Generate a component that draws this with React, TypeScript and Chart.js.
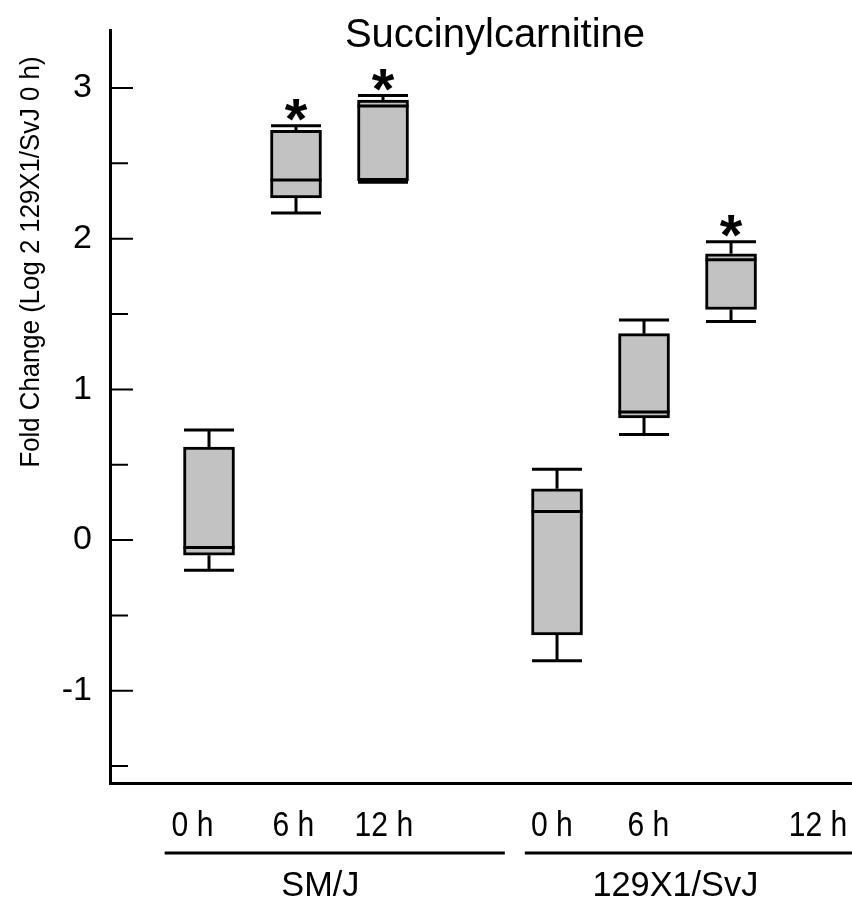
import React, { useEffect, useRef } from 'react';
import { Chart, registerables } from 'chart.js';

Chart.register(...registerables);

// ---- data ----
const categories = ['0 h', '6 h', '12 h', '0 h', '6 h', '12 h'];
const boxPositions = [1, 2, 3, 5, 6, 7];
const groupLabels = ['SM/J', '129X1/SvJ'];
const whiskerLow = [-0.2, 2.17, 2.375, -0.8, 0.7, 1.45];
const quartile1 = [-0.1, 2.27, 2.385, -0.63, 0.81, 1.53];
const medians = [-0.05, 2.39, 2.88, 0.19, 0.85, 1.86];
const quartile3 = [0.617, 2.72, 2.92, 0.34, 1.37, 1.9];
const whiskerHigh = [0.73, 2.75, 2.95, 0.47, 1.46, 1.98];
const significant = [false, true, true, false, false, true];
const yTickValues = [-1.5, -1, -0.5, 0, 0.5, 1, 1.5, 2, 2.5, 3];
const yMin = -1.612;
const yMax = 3.385;
const xMin = -0.138;
const xMax = 8.379;
const titleText = 'Succinylcarnitine';
const yTitleText = 'Fold Change (Log 2 129X1/SvJ 0 h)';

// ---- layout (x in axis units) ----
const categoryLabelPos = [0.81, 1.97, 3.01, 4.94, 6.05, 8.0];
const groupLabelPos = [2.28, 6.36];
const groupLineFrom = [0.49, 4.63];
const groupLineTo = [4.4, 8.45];

const FONT = "'Liberation Sans', Arial, sans-serif";

function scaledText(ctx: CanvasRenderingContext2D, text: string, x: number, y: number, sx: number) {
  ctx.save();
  ctx.translate(x, y);
  ctx.scale(sx, 1);
  ctx.fillText(text, 0, 0);
  ctx.restore();
}

const boxPlugin = {
  id: 'boxExtras',
  afterDatasetsDraw(chart: any) {
    const ctx = chart.ctx;
    const xs = chart.scales.x;
    const ys = chart.scales.y;
    const halfBox = 25.5;
    const halfCap = 25;
    ctx.save();
    ctx.strokeStyle = '#000';
    ctx.lineWidth = 3;
    ctx.lineCap = 'butt';
    for (let i = 0; i < categories.length; i++) {
      const cx = xs.getPixelForValue(boxPositions[i]);
      const yLo = ys.getPixelForValue(whiskerLow[i]);
      const yQ1 = ys.getPixelForValue(quartile1[i]);
      const yMed = ys.getPixelForValue(medians[i]);
      const yQ3 = ys.getPixelForValue(quartile3[i]);
      const yHi = ys.getPixelForValue(whiskerHigh[i]);
      ctx.beginPath();
      ctx.moveTo(cx - halfBox, yMed);
      ctx.lineTo(cx + halfBox, yMed);
      ctx.moveTo(cx, yQ3);
      ctx.lineTo(cx, yHi);
      ctx.moveTo(cx - halfCap, yHi);
      ctx.lineTo(cx + halfCap, yHi);
      ctx.moveTo(cx, yQ1);
      ctx.lineTo(cx, yLo);
      ctx.moveTo(cx - halfCap, yLo);
      ctx.lineTo(cx + halfCap, yLo);
      ctx.stroke();

      if (significant[i]) {
        ctx.font = `bold 58px ${FONT}`;
        ctx.fillStyle = '#000';
        ctx.textAlign = 'center';
        ctx.textBaseline = 'alphabetic';
        const m = ctx.measureText('*');
        const center = yHi - 16;
        const base = center + (m.actualBoundingBoxAscent - m.actualBoundingBoxDescent) / 2;
        ctx.fillText('*', cx, base);
      }
    }
    ctx.restore();
  },
  afterDraw(chart: any) {
    const ctx = chart.ctx;
    const xs = chart.scales.x;
    const ys = chart.scales.y;
    const area = chart.chartArea;
    ctx.save();
    ctx.strokeStyle = '#000';
    ctx.lineWidth = 2;
    ctx.beginPath();
    for (const t of ys.ticks) {
      const y = ys.getPixelForValue(t.value);
      const major = Number.isInteger(t.value);
      ctx.moveTo(area.left, y);
      ctx.lineTo(area.left + (major ? 23 : 18), y);
    }
    ctx.stroke();

    ctx.fillStyle = '#000';
    ctx.textAlign = 'center';
    ctx.textBaseline = 'middle';

    ctx.font = `40px ${FONT}`;
    ctx.fillText(titleText, 495, 36);

    ctx.save();
    ctx.translate(31, 262);
    ctx.rotate(-Math.PI / 2);
    ctx.font = `28px ${FONT}`;
    scaledText(ctx, yTitleText, 0, 0, 0.92);
    ctx.restore();

    ctx.font = `35px ${FONT}`;
    for (let i = 0; i < categories.length; i++) {
      scaledText(ctx, categories[i], xs.getPixelForValue(categoryLabelPos[i]), area.bottom + 43, 0.86);
    }

    ctx.lineWidth = 3;
    for (let g = 0; g < groupLabels.length; g++) {
      const x0 = xs.getPixelForValue(groupLineFrom[g]);
      const x1 = xs.getPixelForValue(groupLineTo[g]);
      const uy = area.bottom + 70;
      ctx.beginPath();
      ctx.moveTo(x0, uy);
      ctx.lineTo(x1, uy);
      ctx.stroke();
      ctx.font = `35px ${FONT}`;
      scaledText(ctx, groupLabels[g], xs.getPixelForValue(groupLabelPos[g]), area.bottom + 103, 0.98);
    }
    ctx.restore();
  },
};

export default function App() {
  const ref = useRef<HTMLCanvasElement | null>(null);
  useEffect(() => {
    if (!ref.current) return;
    const chart = new Chart(ref.current, {
      type: 'bar',
      data: {
        datasets: [
          {
            data: categories.map((_, i) => ({ x: boxPositions[i], y: [quartile1[i], quartile3[i]] })) as any,
            backgroundColor: '#c2c2c2',
            borderColor: '#000',
            borderWidth: 3,
            borderSkipped: false,
            barThickness: 51,
          },
        ],
      },
      options: {
        responsive: false,
        animation: false,
        layout: { padding: { top: 30, right: 1, left: 0, bottom: 0 } },
        plugins: { legend: { display: false }, tooltip: { enabled: false }, title: { display: false } },
        scales: {
          x: {
            type: 'linear',
            offset: false,
            min: xMin,
            max: xMax,
            afterBuildTicks: (s: any) => {
              s.ticks = boxPositions.map((v) => ({ value: v }));
            },
            afterFit: (s: any) => {
              s.height = 121;
              s.paddingLeft = 0;
              s.paddingRight = 0;
            },
            grid: { display: false, drawTicks: false, offset: false },
            border: { display: true, color: '#000', width: 3 },
            ticks: { display: false },
          },
          y: {
            type: 'linear',
            min: yMin,
            max: yMax,
            afterBuildTicks: (s: any) => {
              s.ticks = yTickValues.map((v) => ({ value: v }));
            },
            afterFit: (s: any) => {
              s.width = 110;
              s.paddingTop = 0;
              s.paddingBottom = 0;
            },
            grid: { display: false, drawTicks: false },
            border: { display: true, color: '#000', width: 3 },
            ticks: {
              padding: 18,
              color: '#000',
              font: { family: FONT, size: 34 },
              callback: (v: any) => (Number.isInteger(v) ? String(v) : ''),
            },
          },
        },
      },
      plugins: [boxPlugin],
    });
    return () => chart.destroy();
  }, []);
  return (
    <div style={{ position: 'fixed', left: 0, top: 0, width: 852, height: 904, background: '#fff' }}>
      <canvas ref={ref} width={852} height={904} />
    </div>
  );
}
